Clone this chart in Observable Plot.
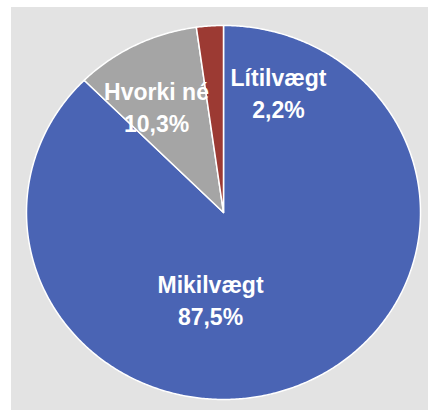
<!DOCTYPE html>
<html>
<head>
<meta charset="utf-8">
<script src="https://cdn.jsdelivr.net/npm/d3@7"></script>
<script src="https://cdn.jsdelivr.net/npm/@observablehq/plot@0.6"></script>
<style>
  html, body { margin: 0; padding: 0; background: #ffffff; }
  #chart { position: absolute; left: 11px; top: 7px; width: 417px; height: 403px; background: #e3e3e3; }
  #chart svg { display: block; background: transparent; }
</style>
</head>
<body>
<div id="chart"></div>
<script>
// Data
const categories = ["Mikilvægt", "Hvorki né", "Lítilvægt"];
const values = [87.5, 10.3, 2.2];
const valueLabels = ["87,5%", "10,3%", "2,2%"];
const colors = ["#4a64b4", "#a5a5a5", "#9c3a33"];
// label anchor positions in the pie's unit space (x right, y up)
const labelX = [-0.066, -0.340, 0.279];
const labelY = [-0.460, 0.572, 0.647];

const pie = d3.pie().sort(null).value(d => d.value).startAngle(0).endAngle(2 * Math.PI);
const rows = categories.map((c, i) => ({category: c, value: values[i]}));
const arcs = pie(rows);

// Build slice outlines (center + arc points) in unit space
const pts = [];
arcs.forEach((a, i) => {
  const name = a.data.category;
  pts.push({slice: name, x: 0, y: 0});
  const n = Math.max(2, Math.ceil((a.endAngle - a.startAngle) / (Math.PI / 360)));
  for (let k = 0; k <= n; k++) {
    const t = a.startAngle + (a.endAngle - a.startAngle) * k / n;
    pts.push({slice: name, x: Math.sin(t), y: Math.cos(t)});
  }
});

const labels = categories.map((c, i) => ({text: c + "\n" + valueLabels[i], x: labelX[i], y: labelY[i]}));

const chart = Plot.plot({
  width: 417,
  height: 403,
  margin: 0,
  x: {domain: [-1, 1], range: [15, 409], axis: null},
  y: {domain: [-1, 1], range: [392, 18], axis: null},
  color: {domain: categories, range: colors},
  style: {background: "transparent"},
  marks: [
    Plot.line(pts, {x: "x", y: "y", z: "slice", fill: "slice", stroke: "#ffffff", strokeWidth: 1.5, curve: "linear-closed", strokeLinejoin: "round"}),
    Plot.text(labels, {x: "x", y: "y", text: "text", fill: "#ffffff", fontSize: 23, fontWeight: "bold", fontFamily: "Liberation Sans, Arial, sans-serif", lineHeight: 1.38, lineAnchor: "middle", textAnchor: "middle"})
  ]
});
document.getElementById("chart").appendChild(chart);
</script>
</body>
</html>
